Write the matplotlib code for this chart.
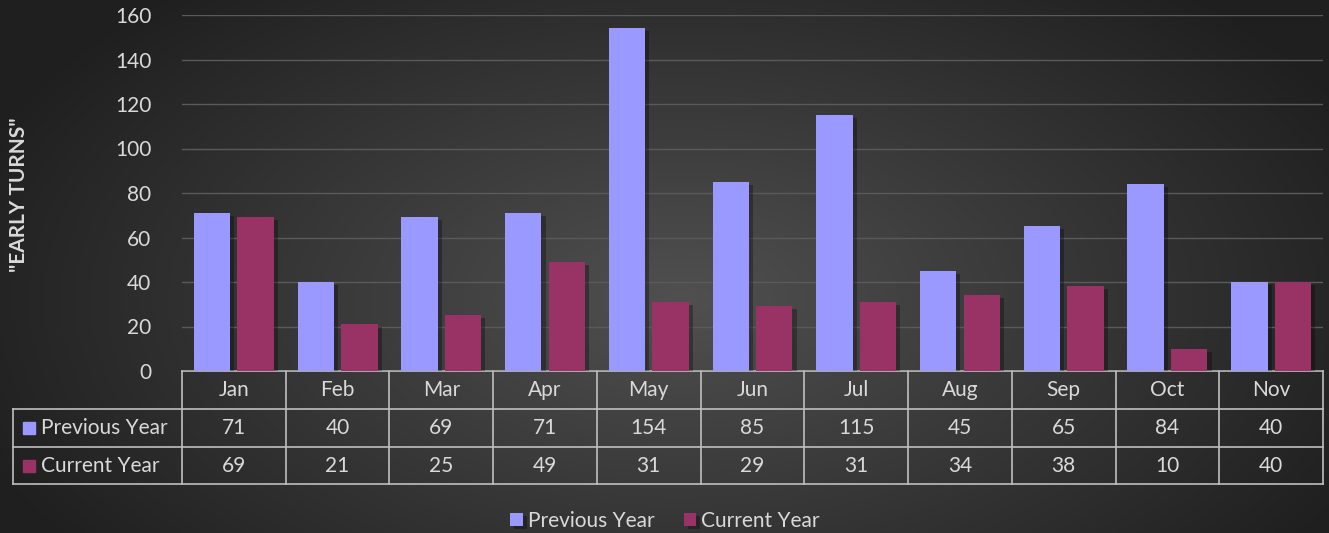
import matplotlib
matplotlib.use("Agg")
import matplotlib.pyplot as plt
import matplotlib.patheffects as pe
import numpy as np

months = ["Jan", "Feb", "Mar", "Apr", "May", "Jun", "Jul", "Aug", "Sep", "Oct", "Nov"]
previous_year = [71, 40, 69, 71, 154, 85, 115, 45, 65, 84, 40]
current_year = [69, 21, 25, 49, 31, 29, 31, 34, 38, 10, 40]
series_names = ["Previous Year", "Current Year"]
y_label = '"EARLY TURNS"'
y_ticks = [0, 20, 40, 60, 80, 100, 120, 140, 160]

C_PREV = "#9999FF"
C_CUR = "#993366"
TXT = "#D9D9D9"
LINE = "#BFBFBF"

plt.rcParams['font.family'] = ['Lato', 'DejaVu Sans']

W, H = 1329, 533
fig = plt.figure(figsize=(W / 100, H / 100), dpi=100)

# background radial gradient
bg = fig.add_axes([0, 0, 1, 1], zorder=-10)
yy, xx = np.mgrid[0:H, 0:W]
cx, cy = 680, 300
r = np.sqrt(((xx - cx) / 760.0) ** 2 + ((yy - cy) / 420.0) ** 2)
v = 0x50 - (0x50 - 0x1F) * np.clip(r, 0, 1)
img = np.dstack([v, v, v]) / 255.0
bg.imshow(img, aspect='auto', extent=[0, W, H, 0])
bg.set_xlim(0, W)
bg.set_ylim(H, 0)
bg.axis('off')

def fx(px):
    return px / W

def fy(py):
    return 1 - py / H

left, right, top, bottom = 182, 1323, 15, 371
ax = fig.add_axes([fx(left), fy(bottom), fx(right) - fx(left), fy(top) - fy(bottom)])
ax.set_facecolor('none')
n = len(months)
x = np.arange(n)
bw = 0.35
off = 0.21
sh = [pe.SimplePatchShadow(offset=(3, -2), shadow_rgbFace='black', alpha=0.3), pe.Normal()]
b1 = ax.bar(x - off, previous_year, bw, color=C_PREV, zorder=3, label=series_names[0])
b2 = ax.bar(x + off, current_year, bw, color=C_CUR, zorder=3, label=series_names[1])
for b in list(b1) + list(b2):
    b.set_path_effects(sh)
ax.set_xlim(-0.5, n - 0.5)
ax.set_ylim(0, 160)
ax.set_yticks(y_ticks)
ax.yaxis.grid(True, color="#5A5A5A", linewidth=1, zorder=0)
ax.tick_params(axis='y', length=0, colors=TXT, labelsize=15, pad=22)
ax.tick_params(axis='x', length=0, labelbottom=False)
for s in ax.spines.values():
    s.set_visible(False)
fig.text(fx(19), fy(195), y_label, rotation=90, color=TXT, fontsize=15,
         fontweight='bold', ha='center', va='center')

# data table drawn in figure pixel coordinates on bg axes
rows_y = [371, 409, 447, 484]
tab_left = 13
colw = (right - left) / n
kw = dict(color=LINE, linewidth=1.2, zorder=5)
bg.plot([left, right], [rows_y[0], rows_y[0]], **kw)
for yv in rows_y[1:]:
    bg.plot([tab_left, right], [yv, yv], **kw)
bg.plot([tab_left, tab_left], [rows_y[1], rows_y[3]], **kw)
for i in range(n + 1):
    xv = left + i * colw
    bg.plot([xv, xv], [rows_y[0], rows_y[3]], **kw)

fs = 15
for i, m in enumerate(months):
    cxp = left + (i + 0.5) * colw
    bg.text(cxp, (rows_y[0] + rows_y[1]) / 2, m, color=TXT, fontsize=fs, ha='center', va='center')
    bg.text(cxp, (rows_y[1] + rows_y[2]) / 2, str(previous_year[i]), color=TXT, fontsize=fs, ha='center', va='center')
    bg.text(cxp, (rows_y[2] + rows_y[3]) / 2, str(current_year[i]), color=TXT, fontsize=fs, ha='center', va='center')

for k, (name, col) in enumerate(zip(series_names, [C_PREV, C_CUR])):
    yc = (rows_y[1 + k] + rows_y[2 + k]) / 2
    bg.add_patch(plt.Rectangle((23, yc - 6), 12, 12, color=col, zorder=6))
    bg.text(41, yc, name, color=TXT, fontsize=fs, ha='left', va='center')

# bottom legend
leg = fig.legend(handles=[b1, b2], labels=series_names, loc='center',
                 bbox_to_anchor=(fx(665), fy(521)), ncol=2, frameon=False,
                 fontsize=15, labelcolor=TXT, handlelength=0.6, handleheight=0.6,
                 handletextpad=0.25, columnspacing=1.4)

fig.savefig("out.png", dpi=100)
